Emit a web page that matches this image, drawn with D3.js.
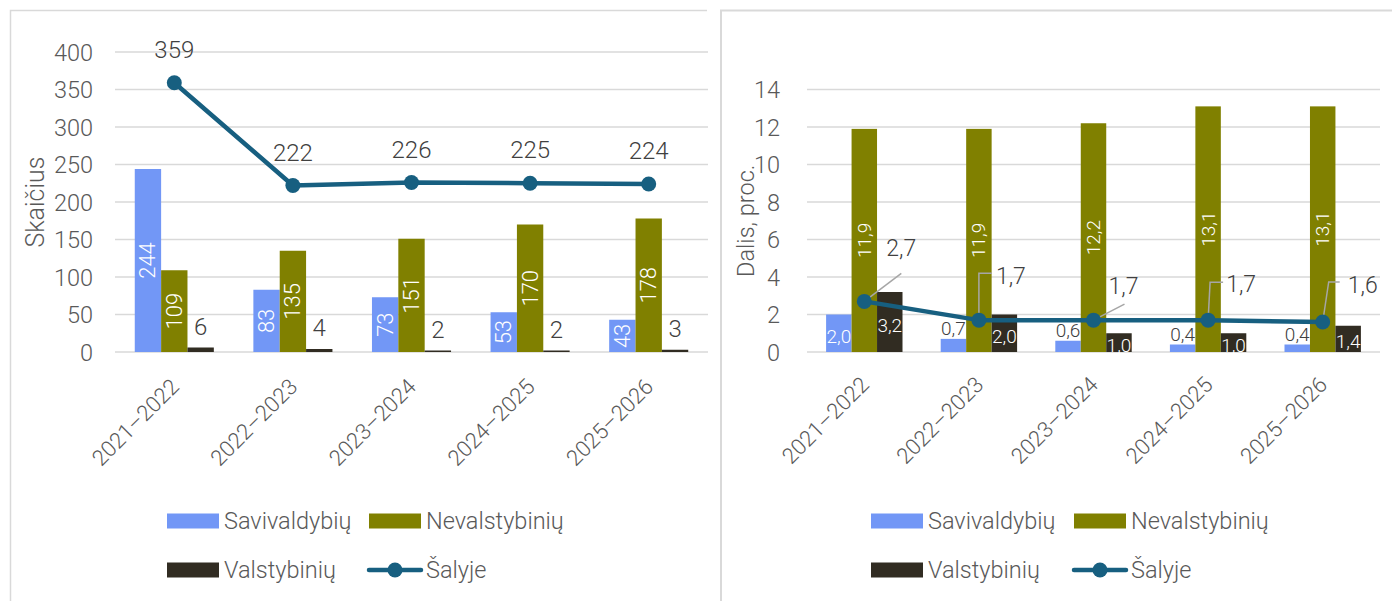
<!DOCTYPE html>
<html><head><meta charset="utf-8">
<script src="https://cdn.jsdelivr.net/npm/d3@7"></script>
<style>
html,body{margin:0;padding:0;background:#fff;}
text{font-family:Roboto,"Liberation Sans",sans-serif;font-weight:300;}
</style></head>
<body><svg id="c" width="1392" height="601"></svg>
<script>
const categories = ["2021–2022","2022–2023","2023–2024","2024–2025","2025–2026"];
const seriesNames = ["Savivaldybių","Nevalstybinių","Valstybinių","Šalyje"];
// Left chart: counts
const countSav = [244,83,73,53,43];
const countNev = [109,135,151,170,178];
const countVal = [6,4,2,2,3];
const countSal = [359,222,226,225,224];
const countTicks = [0,50,100,150,200,250,300,350,400];
// Right chart: share, percent
const shareSav = [2.0,0.7,0.6,0.4,0.4];
const shareNev = [11.9,11.9,12.2,13.1,13.1];
const shareVal = [3.2,2.0,1.0,1.0,1.4];
const shareSal = [2.7,1.7,1.7,1.7,1.6];
const shareTicks = [0,2,4,6,8,10,12,14];

const colors = {sav:"#7297f6", nev:"#808000", val:"#312c22", line:"#175f80"};
const textCol = "#595959", labelCol = "#404040";
const svg = d3.select("#c");

// panel borders
svg.append("path").attr("d","M10.5,601 V10.5 H707").attr("fill","none").attr("stroke","#d9d9d9").attr("stroke-width",1.5);
svg.append("path").attr("d","M721,601 V10.5 H1392").attr("fill","none").attr("stroke","#d9d9d9").attr("stroke-width",2);

function fmt(v, dec){ return dec ? d3.format(".1f")(v).replace(".",",") : String(v); }

function drawChart(o){
  const g = svg.append("g");
  const x = d3.scaleBand().domain(categories).range([o.left,o.right]).padding(0);
  const step = x.step();
  const xs = d3.scaleBand().domain(["sav","nev","val"]).range([step/6, step*5/6]).padding(0);
  const y = d3.scaleLinear().domain([0,o.max]).range([352,o.top]);
  // grid
  g.selectAll(".grid").data(o.ticks).join("line")
    .attr("x1",o.left).attr("x2",o.right).attr("y1",d=>y(d)).attr("y2",d=>y(d))
    .attr("stroke","#d9d9d9").attr("stroke-width",1.5);
  // y axis (tick labels only)
  const ya = d3.axisLeft(y).tickValues(o.ticks).tickSize(0).tickPadding(0);
  const yg = g.append("g").attr("transform",`translate(${o.left-o.tickGap},0)`).call(ya);
  yg.select(".domain").remove();
  yg.selectAll("text").attr("font-size",o.tickFont).attr("fill",textCol).attr("dy","0.35em")
    .style("font-family","Roboto,'Liberation Sans',sans-serif").style("font-weight",300);
  // y title
  g.append("text").attr("transform",`translate(${o.titleX},${(352+o.top)/2}) rotate(-90)`)
    .attr("text-anchor","middle").attr("dominant-baseline","central")
    .attr("font-size",o.titleFont).attr("fill",textCol).text(o.title);
  // x labels
  const xa = d3.axisBottom(x).tickSize(0).tickPadding(0);
  const xg = g.append("g").attr("transform",`translate(0,${o.xLabY})`).call(xa);
  xg.select(".domain").remove();
  xg.selectAll("text").attr("font-size",22).attr("fill",textCol).attr("text-anchor","end")
    .attr("dy","0").attr("y",0).attr("x",0)
    .attr("transform","translate(6,0) rotate(-45)")
    .style("font-family","Roboto,'Liberation Sans',sans-serif").style("font-weight",300);

  const series = [["sav",o.sav],["nev",o.nev],["val",o.val]];
  series.forEach(([k,vals])=>{
    g.selectAll(".b"+k).data(vals).join("rect")
      .attr("x",(d,i)=>x(categories[i])+xs(k)).attr("width",xs.bandwidth())
      .attr("y",d=>y(d)).attr("height",d=>y(0)-y(d)).attr("fill",colors[k]);
  });
  // bar labels
  series.forEach(([k,vals])=>{
    const mode = o.labelMode[k];
    vals.forEach((v,i)=>{
      const cx = x(categories[i])+xs(k)+xs.bandwidth()/2;
      const m = typeof mode==="function" ? mode(v) : mode;
      const t = g.append("text").attr("font-size",o.barFont).text(fmt(v,o.dec));
      if(m==="rot"){
        const cy=(y(v)+y(0))/2;
        t.attr("transform",`translate(${cx},${cy}) rotate(-90)`).attr("text-anchor","middle")
         .attr("dominant-baseline","central").attr("fill","#fff");
      } else if(m==="in"){
        const cy=(y(v)+y(0))/2+3;
        t.attr("x",cx).attr("y",cy).attr("text-anchor","middle").attr("dominant-baseline","central").attr("fill","#fff");
      } else {
        t.attr("x",cx).attr("y",y(v)-o.outGap).attr("text-anchor","middle").attr("fill",labelCol)
         .attr("font-size",o.outFont);
      }
    });
  });
  // line
  const cxs = i=>x(categories[i])+step/2;
  const line = d3.line().x((d,i)=>cxs(i)).y(d=>y(d));
  g.append("path").datum(o.sal).attr("d",line).attr("fill","none").attr("stroke",colors.line)
    .attr("stroke-width",4.5).attr("stroke-linejoin","round");
  // leaders
  if(o.leaders){
    o.sal.forEach((v,i)=>{
      const p=[cxs(i),y(v)];
      const pts=[p].concat(o.leaders[i].map(q=>[p[0]+q[0],p[1]+q[1]]));
      g.append("path").attr("d",d3.line()(pts)).attr("fill","none").attr("stroke","#a6a6a6").attr("stroke-width",1.5);
    });
  }
  g.selectAll(".pt").data(o.sal).join("circle").attr("cx",(d,i)=>cxs(i)).attr("cy",d=>y(d))
    .attr("r",7.5).attr("fill",colors.line);
  o.sal.forEach((v,i)=>{
    const off=o.lineLab[i];
    g.append("text").attr("x",cxs(i)+off[0]).attr("y",y(v)+off[1]).attr("text-anchor","middle")
     .attr("dominant-baseline","central").attr("font-size",o.lineFont).attr("fill",labelCol).text(fmt(v,o.dec));
  });
  // legend
  const L=o.legend;
  const items=[["sav",L.x1,L.y1],["nev",L.x2,L.y1],["val",L.x1,L.y2],["line",L.x2,L.y2]];
  items.forEach(([k,lx,ly],j)=>{
    if(k==="line"){
      g.append("line").attr("x1",lx).attr("x2",lx+52).attr("y1",ly).attr("y2",ly).attr("stroke",colors.line)
       .attr("stroke-width",4.5).attr("stroke-linecap","round");
      g.append("circle").attr("cx",lx+26).attr("cy",ly).attr("r",7.5).attr("fill",colors.line);
    } else {
      g.append("rect").attr("x",lx).attr("y",ly-7.5).attr("width",52).attr("height",15).attr("fill",colors[k]);
    }
    g.append("text").attr("x",lx+57).attr("y",ly).attr("dominant-baseline","central")
     .attr("font-size",23.5).attr("fill",textCol).text(seriesNames[j]);
  });
}

drawChart({left:115,right:708,top:52,max:400,ticks:countTicks,tickGap:22,tickFont:23.5,titleX:35,title:"Skaičius",titleFont:25,
  xLabY:388,sav:countSav,nev:countNev,val:countVal,sal:countSal,dec:false,barFont:22,outFont:24,outGap:13,lineFont:24,
  labelMode:{sav:"rot",nev:"rot",val:"out"},
  lineLab:countSal.map(()=>[0,-33]),
  legend:{x1:167,x2:369,y1:521,y2:570}});

drawChart({left:807,right:1380,top:89.5,max:14,ticks:shareTicks,tickGap:27,tickFont:23.5,titleX:746,title:"Dalis, proc.",titleFont:23.5,
  xLabY:386,sav:shareSav,nev:shareNev,val:shareVal,sal:shareSal,dec:true,barFont:19,outFont:19,outGap:4,lineFont:23,
  labelMode:{sav:v=>v>=1.5?"in":"out",nev:"rot",val:"in"},
  lineLab:[[37,-53],[32,-44],[30,-34],[33,-36],[40,-37]],
  leaders:[[[37,-28]],[[0,-47],[13,-47]],[[31,-16]],[[2,-38],[15,-38]],[[6,-40],[17,-40]]],
  legend:{x1:871,x2:1074,y1:521,y2:570}});
</script></body></html>
